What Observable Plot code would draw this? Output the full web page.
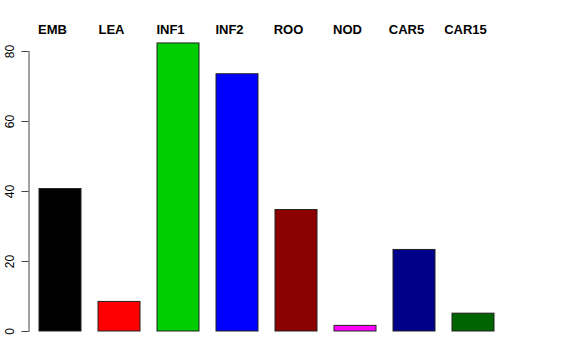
<!DOCTYPE html>
<html>
<head>
<meta charset="utf-8">
<script src="https://cdn.jsdelivr.net/npm/d3@7"></script>
<script src="https://cdn.jsdelivr.net/npm/@observablehq/plot@0.6"></script>
<style>
  body { margin: 0; background: #fff; }
  #chart svg { display: block; }
</style>
</head>
<body>
<div id="chart"></div>
<script>
const categories = ["EMB", "LEA", "INF1", "INF2", "ROO", "NOD", "CAR5", "CAR15"];
const values = [40.7, 8.45, 82.3, 73.5, 34.7, 1.6, 23.3, 5.1];
const colors = ["#000000", "#FF0000", "#00CD00", "#0000FF", "#8B0000", "#FF00FF", "#00008B", "#006400"];
const yTicks = [0, 20, 40, 60, 80];

const data = categories.map((c, i) => ({cat: c, value: values[i], color: colors[i]}));

const W = 576, H = 360, ML = 28.5, MR = 64;
const frameW = W - ML - MR;

const chart = Plot.plot({
  width: W,
  height: H,
  marginTop: 51,
  marginBottom: 29,
  marginLeft: ML,
  marginRight: MR,
  style: {fontFamily: "Liberation Sans, Arial, Helvetica, sans-serif", background: "#fff", overflow: "visible"},
  x: {type: "band", domain: categories, range: [21, 512.2], padding: 0.29},
  y: {domain: [0, 80]},
  marks: [
    Plot.barY(data, {x: "cat", y: "value", fill: "color", stroke: "#222", strokeWidth: 1}),
    Plot.axisX({anchor: "top", tickSize: 0, tickPadding: 18, dx: -8, fontSize: 13, fontWeight: "bold", fill: "#000", label: null}),
    Plot.axisY({ticks: yTicks, tickSize: 0, tickPadding: 15, rotate: -90, textAnchor: "middle", lineAnchor: "bottom", fontSize: 12, label: null, fill: "#000"}),
    Plot.ruleY(yTicks, {y: d => d, dx: -7, insetRight: frameW - 7, stroke: "#444", strokeWidth: 1}),
    Plot.frame({anchor: "left", stroke: "#444"})
  ]
});
document.getElementById("chart").appendChild(chart);
</script>
</body>
</html>
